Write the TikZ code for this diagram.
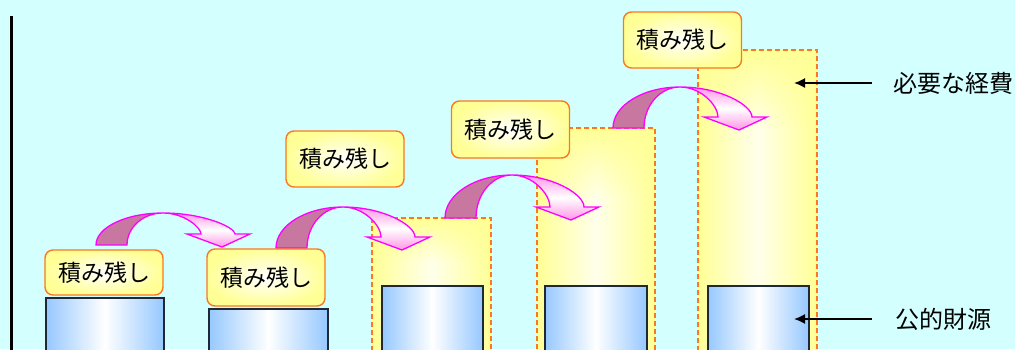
\documentclass[tikz,border=0pt]{standalone}
\usepackage{fontspec}
\newfontfamily\jp{Noto Sans CJK JP}
\usetikzlibrary{arrows.meta,fadings}
\definecolor{bgc}{RGB}{212,255,255}
\definecolor{lyellow}{RGB}{255,255,150}
\definecolor{ymid}{RGB}{255,255,235}
\definecolor{lorange}{RGB}{250,120,30}
\definecolor{lblue}{RGB}{150,200,255}
\definecolor{bborder}{RGB}{30,40,55}
\definecolor{mag}{RGB}{255,0,255}
\definecolor{mauve}{RGB}{200,120,160}
\definecolor{pinkc}{RGB}{255,150,230}
\tikzfading[name=topfade, top color=transparent!0, bottom color=transparent!100]
\tikzset{
  yfill/.style={left color=lyellow, right color=lyellow, middle color=ymid},
  yborder/.style={draw=lorange, line width=1.4pt, dash pattern=on 5pt off 3pt},
  ytop/.style={fill=lyellow, path fading=topfade},
  bluebox/.style={draw=bborder, line width=1.5pt, left color=lblue, right color=lblue,
    middle color=white, anchor=north west, minimum width=#1, minimum height=70pt, inner sep=0pt},
  lbl/.style={draw=lorange, line width=1.4pt, rounded corners=8pt, inner color=white,
    outer color=lyellow, minimum width=118pt, minimum height=#1, inner sep=0pt,
    font=\jp\fontsize{23}{23}\selectfont},
  rtext/.style={inner sep=0pt, font=\jp\fontsize{24}{24}\selectfont},
  backpart/.style={draw=mag, line width=1.3pt, fill=mauve},
  frontpart/.style={draw=mag, line width=1.3pt, top color=pinkc, bottom color=pinkc, middle color=white},
  pointer/.style={line width=1.6pt, -{Latex[length=11pt,width=10pt]}}
}
\newcommand\curvedarrow[3]{%
\begin{scope}[shift={(#1,#2)}]
\pgfmathsetmacro\hh{#3}
\pgfmathsetmacro\hc{0.55*#3}
\path[backpart] (0,0) .. controls (0,-\hc) and (30,-\hh) .. (67,-\hh)
  .. controls (47,-\hh) and (31,-\hc) .. (31,0) -- cycle;
\path[frontpart] (67,-\hh) .. controls (108,-\hh) and (139,-\hc) .. (139,-11)
  -- (154,-11) -- (126,2) -- (91,-11) -- (105,-11)
  .. controls (105,-\hc) and (88,-\hh) .. (67,-\hh) -- cycle;
\end{scope}}
\newcommand\ycolumn[4]{% x1 y1 x2 fade depth
\path[yfill] (#1,#2) rectangle (#3,360);
\path[ytop] (#1,#2) rectangle (#3,#2+#4);
\path[yborder] (#1,#2) rectangle (#3,360);}
\begin{document}
\begin{tikzpicture}[x=1pt,y=-1pt]
\useasboundingbox (0,0) rectangle (1015,349);
\clip (0,0) rectangle (1015,349);
\fill[bgc] (0,0) rectangle (1015,349);
% axis
\draw[line width=3pt] (11,16) -- (11,360);
% yellow columns (necessary costs)
\ycolumn{372}{218}{491}{45}
\ycolumn{537}{128}{655}{70}
\ycolumn{698}{50}{817}{80}
% blue boxes (public funds)
\node[bluebox=118pt] (b1) at (45,297) {};
\node[bluebox=119pt] (b2) at (208,308) {};
\node[bluebox=101pt] (b3) at (381,285) {};
\node[bluebox=102pt] (b4) at (544,285) {};
\node[bluebox=101pt] (b5) at (707,285) {};
% curved arrows
\curvedarrow{96}{245}{32}
\curvedarrow{276}{248}{41}
\curvedarrow{445}{218}{43}
\curvedarrow{613}{128}{41}
% labels
\node[lbl=45pt] (l1) at (104,272.5) {積み残し};
\node[lbl=57pt] (l2) at (266,277.5) {積み残し};
\node[lbl=56pt] (l3) at (345,159) {積み残し};
\node[lbl=57pt] (l4) at (510.5,129.5) {積み残し};
\node[lbl=56pt] (l5) at (682.5,40) {積み残し};
% right side texts
\node[rtext] (t1) at (953,83) {必要な経費};
\node[rtext] (t2) at (943,319) {公的財源};
\coordinate (p1) at (794,83);
\coordinate (p2) at (794,319);
\draw[pointer] ([xshift=-21pt]t1.west) -- (p1);
\draw[pointer] ([xshift=-23pt]t2.west) -- (p2);
\end{tikzpicture}
\end{document}
